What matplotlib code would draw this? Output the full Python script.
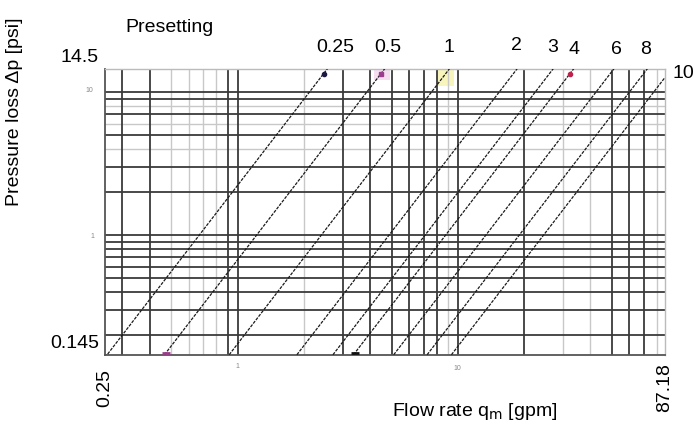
import numpy as np
import matplotlib.pyplot as plt

plt.rcParams['font.family'] = ['Liberation Sans', 'DejaVu Sans']

# presetting curves: dp = (q / K)^2, K in gpm/sqrt(psi)
presettings = ['0.25', '0.5', '1', '2', '3', '4', '6', '8', '10']
k_values = [0.67, 1.22, 2.4, 4.87, 7.1, 8.8, 13.4, 19.0, 24.5]

# axis range
q_min, q_max = 0.25, 87.18
p_min, p_max = 0.145, 14.5

# grid lines of the scanned chart (dark / light)
x_dark = [0.3, 0.4, 0.9, 1, 3, 4, 5, 6, 7, 8, 10, 20, 50, 60, 70]
x_light = [0.5, 0.6, 0.7, 0.8, 2, 9, 30, 40, 80]
y_dark = [10, 9, 7, 5, 3, 2, 1, 0.9, 0.8, 0.7, 0.6, 0.5, 0.4, 0.3, 0.2]
y_light = [8, 6, 4]

W, H = 694, 430


def fx(px):
    return px / W


def fy(py):
    return 1 - py / H


fig = plt.figure(figsize=(W / 100, H / 100), dpi=100)
ax = fig.add_axes([fx(105), fy(355), fx(665) - fx(105), fy(69) - fy(355)])
ax.set_xscale('log')
ax.set_yscale('log')
ax.set_xlim(q_min, q_max)
ax.set_ylim(p_min, p_max)
ax.set_xticks([])
ax.set_yticks([])
ax.minorticks_off()

for v in x_light:
    ax.axvline(v, color='#c8c8c8', lw=1.0, zorder=1)
for v in y_light:
    ax.axhline(v, color='#c8c8c8', lw=1.0, zorder=1)
for v in x_dark:
    ax.axvline(v, color='#3a3a3a', lw=1.3, zorder=2)
for v in y_dark:
    ax.axhline(v, color='#3a3a3a', lw=1.3, zorder=2)

for s in ['top', 'right']:
    ax.spines[s].set_color('#bbbbbb')
    ax.spines[s].set_linewidth(1.0)
for s in ['left', 'bottom']:
    ax.spines[s].set_color('#555555')
    ax.spines[s].set_linewidth(1.3)

q = np.logspace(np.log10(q_min), np.log10(q_max), 400)
for name, k in zip(presettings, k_values):
    dp = (q / k) ** 2
    ax.plot(q, dp, color='#1a1a1a', lw=0.9, ls=(0, (2.5, 1.0)), zorder=3)


# small coloured marks at some curve ends (scan highlights)
def q_at(k, p):
    return k * np.sqrt(p)


ax.plot(q_at(k_values[0], p_max * 0.93), p_max * 0.93, 'o', color='#1a1a40', ms=3, zorder=4, clip_on=False)
ax.plot(q_at(k_values[1], p_max * 0.93), p_max * 0.93, 's', color='#9c3c8c', ms=3, zorder=4, clip_on=False)
ax.plot(q_at(k_values[5], p_max * 0.93), p_max * 0.93, 'o', color='#c0204a', ms=3, zorder=4, clip_on=False)
ax.plot(q_at(k_values[1], p_min * 1.04), p_min * 1.04, '_', color='#9c3c8c', ms=6, mew=2, zorder=4)
ax.plot(q_at(k_values[5], p_min * 1.04), p_min * 1.04, '_', color='#111111', ms=6, mew=2, zorder=4)
ax.axvspan(q_at(k_values[2], p_max) * 0.88, q_at(k_values[2], p_max) * 1.05, ymin=0.94, ymax=1.0,
           color='#f6f2a0', alpha=0.7, zorder=0, lw=0)
ax.axvspan(q_at(k_values[1], p_max) * 0.9, q_at(k_values[1], p_max) * 1.06, ymin=0.96, ymax=1.0,
           color='#f4d6ee', alpha=0.8, zorder=0, lw=0)

# texts
fs = 14
fig.text(fx(125), fy(27), 'Presetting', fontsize=fs, ha='left', va='center')
fig.text(fx(99), fy(58), '14.5', fontsize=fs, ha='right', va='center')
fig.text(fx(99), fy(343), '0.145', fontsize=fs, ha='right', va='center')
fig.text(fx(105), fy(388), '0.25', fontsize=fs, ha='center', va='center', rotation=90)
fig.text(fx(665), fy(388), '87.18', fontsize=fs, ha='center', va='center', rotation=90)
fig.text(fx(475), fy(411), 'Flow rate q$_{\\mathrm{m}}$ [gpm]', fontsize=fs, ha='center', va='center')
fig.text(fx(15), fy(112), 'Pressure loss \u0394p [psi]', fontsize=fs, ha='center', va='center', rotation=90)

label_px = [(335, 47), (388, 47), (449, 47), (516, 45), (553, 48), (574, 49), (616, 49), (646, 50)]
for name, (px, py) in zip(presettings[:-1], label_px):
    fig.text(fx(px), fy(py), name, fontsize=fs, ha='center', va='center')
fig.text(fx(672), fy(74), presettings[-1], fontsize=fs, ha='left', va='center')

# faint small tick labels
small = dict(fontsize=5, color='#888888', ha='center', va='center')
fig.text(fx(89), fy(91), '10', **small)
fig.text(fx(92), fy(236), '1', **small)
fig.text(fx(237), fy(366), '1', **small)
fig.text(fx(457), fy(368), '10', **small)

fig.savefig('out.png', dpi=100, facecolor='white')
